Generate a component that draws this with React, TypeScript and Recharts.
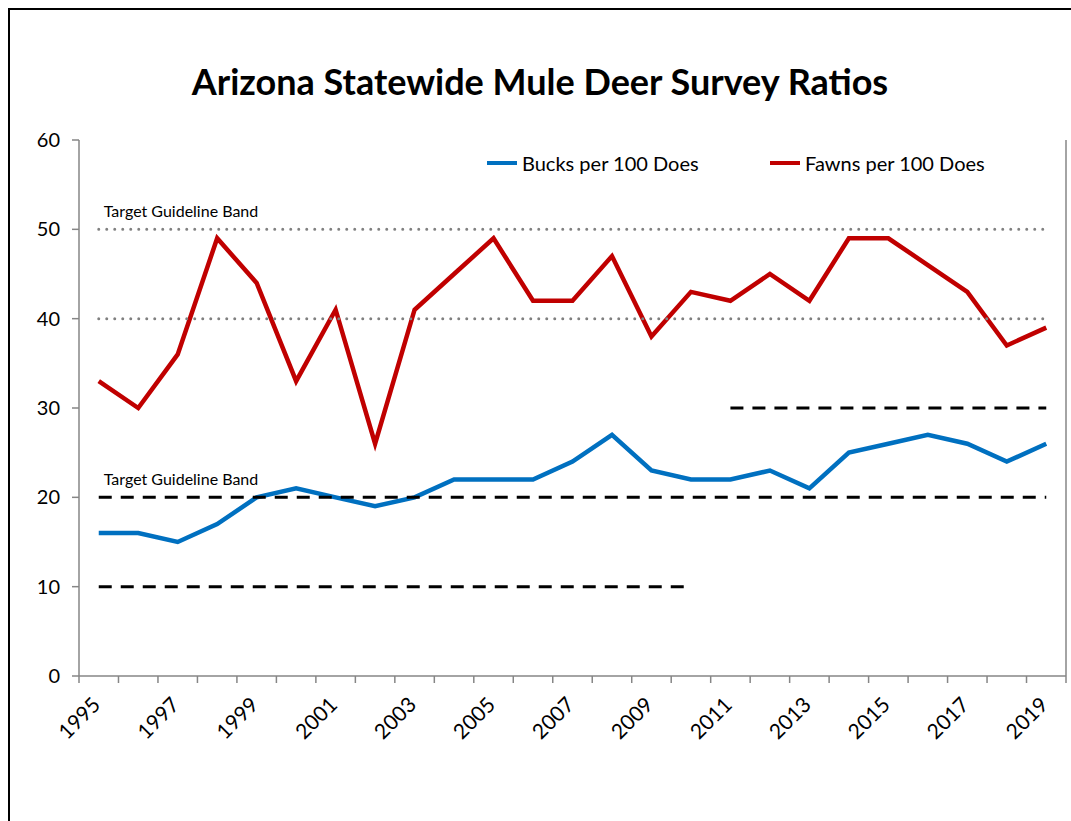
import { LineChart, Line, XAxis, YAxis, Legend, LabelList } from "recharts";

const years = [
    1995, 1996, 1997, 1998, 1999, 2000, 2001, 2002, 2003, 2004, 2005, 2006, 2007,
    2008, 2009, 2010, 2011, 2012, 2013, 2014, 2015, 2016, 2017, 2018, 2019,
];
const bucks = [16, 16, 15, 17, 20, 21, 20, 19, 20, 22, 22, 22, 24, 27, 23, 22, 22, 23, 21, 25, 26, 27, 26, 24, 26];
const fawns = [33, 30, 36, 49, 44, 33, 41, 26, 41, 45, 49, 42, 42, 47, 38, 43, 42, 45, 42, 49, 49, 46, 43, 37, 39];

// guideline bands (fawns: 40-50 all years, bucks: 10-20 until 2010, 20-30 from 2011)
const fawnHigh = [50, 50, 50, 50, 50, 50, 50, 50, 50, 50, 50, 50, 50, 50, 50, 50, 50, 50, 50, 50, 50, 50, 50, 50, 50];
const fawnLow = [40, 40, 40, 40, 40, 40, 40, 40, 40, 40, 40, 40, 40, 40, 40, 40, 40, 40, 40, 40, 40, 40, 40, 40, 40];
const buckLowOld = [10, 10, 10, 10, 10, 10, 10, 10, 10, 10, 10, 10, 10, 10, 10, 10, null, null, null, null, null, null, null, null, null];
const buckMid = [20, 20, 20, 20, 20, 20, 20, 20, 20, 20, 20, 20, 20, 20, 20, 20, 20, 20, 20, 20, 20, 20, 20, 20, 20];
const buckHighNew = [null, null, null, null, null, null, null, null, null, null, null, null, null, null, null, null, 30, 30, 30, 30, 30, 30, 30, 30, 30];

const yTicks = [0, 10, 20, 30, 40, 50, 60];
const labelYears = [1995, 1997, 1999, 2001, 2003, 2005, 2007, 2009, 2011, 2013, 2015, 2017, 2019];

const data = years.map((year, i) => ({
    year,
    bucks: bucks[i],
    fawns: fawns[i],
    fawnHigh: fawnHigh[i],
    fawnLow: fawnLow[i],
    buckLowOld: buckLowOld[i],
    buckMid: buckMid[i],
    buckHighNew: buckHighNew[i],
}));

const xDomain = [years[0] - 0.5, years[years.length - 1] + 0.5];
const boundaries = [...years.map((y) => y - 0.5), years[years.length - 1] + 0.5];

const FONT = "Lato, 'Open Sans', sans-serif";
const AXIS_GREY = "#868686";

const YearTick = (props: any) => {
    const { x, y, payload } = props;
    const ax = x + 3;
    const ay = y + 29;
    return (
        <text
            x={ax}
            y={ay}
            transform={`rotate(-45, ${ax}, ${ay})`}
            textAnchor="end"
            fontSize={21}
            fontFamily={FONT}
            fill="#000"
        >
            {payload.value}
        </text>
    );
};

const bandLabel = (props: any) => {
    const { x, y, index } = props;
    if (index !== 0) return null;
    return (
        <text x={x + 5} y={y - 12} fontSize={16} fontFamily={FONT} fill="#000">
            Target Guideline Band
        </text>
    );
};

const LegendBox = () => {
    const items = [
        { name: "Bucks per 100 Does", color: "#0070C0", width: 283 },
        { name: "Fawns per 100 Does", color: "#C00000", width: 260 },
    ];
    return (
        <div style={{ display: "flex", fontFamily: FONT, fontSize: 20, lineHeight: "24px", color: "#000" }}>
            {items.map((it) => (
                <div key={it.name} style={{ width: it.width, display: "flex", alignItems: "center" }}>
                    <svg width={30} height={6} style={{ marginRight: 5 }}>
                        <line x1={0} y1={3} x2={30} y2={3} stroke={it.color} strokeWidth={4} />
                    </svg>
                    <span>{it.name}</span>
                </div>
            ))}
        </div>
    );
};

const App = () => {
    return (
        <div style={{ width: 1071, height: 821, overflow: "hidden", position: "relative", background: "#fff" }}>
            <style>
                {"html, body { margin: 0; padding: 0; overflow: hidden; } html, body, #root { outline: none !important; border: none !important; box-shadow: none !important; }"}
            </style>
            <div
                style={{
                    position: "absolute",
                    left: 8,
                    top: 8,
                    width: 1080,
                    height: 830,
                    borderLeft: "2px solid #000",
                    borderTop: "2px solid #000",
                }}
            />
            <div style={{ position: "absolute", left: 10, top: 10 }}>
                <LineChart
                    width={1061}
                    height={811}
                    data={data}
                    margin={{ top: 130, right: 4, bottom: 84, left: 9 }}
                >
                    <text
                        x={530}
                        y={85}
                        textAnchor="middle"
                        fontSize={36}
                        fontWeight="bold"
                        fontFamily={FONT}
                        fill="#000"
                    >
                        Arizona Statewide Mule Deer Survey Ratios
                    </text>
                    <XAxis
                        xAxisId="b_labels"
                        dataKey="year"
                        type="number"
                        domain={xDomain}
                        ticks={labelYears}
                        tick={<YearTick />}
                        height={60}
                        tickSize={0}
                        tickMargin={0}
                        axisLine={false}
                        tickLine={false}
                        interval={0}
                    />
                    <XAxis
                        xAxisId="a_main"
                        dataKey="year"
                        type="number"
                        domain={xDomain}
                        ticks={boundaries}
                        tickFormatter={() => ""}
                        tick={{ fontSize: 1 }}
                        height={1}
                        tickSize={7}
                        tickMargin={0}
                        axisLine={{ stroke: AXIS_GREY, strokeWidth: 1.5 }}
                        tickLine={{ stroke: AXIS_GREY, strokeWidth: 1.5 }}
                        interval={0}
                    />
                    <XAxis
                        xAxisId="top"
                        orientation="top"
                        type="number"
                        domain={xDomain}
                        height={0}
                        tick={false}
                        tickLine={false}
                        axisLine={{ stroke: AXIS_GREY, strokeWidth: 1.5 }}
                    />
                    <YAxis
                        yAxisId="main"
                        domain={[0, 60]}
                        ticks={yTicks}
                        width={60}
                        tickSize={7}
                        tickMargin={12}
                        axisLine={{ stroke: AXIS_GREY, strokeWidth: 1.5 }}
                        tickLine={{ stroke: AXIS_GREY, strokeWidth: 1.5 }}
                        tick={{ fontSize: 20, fontFamily: FONT, fill: "#000" }}
                        interval={0}
                    />
                    <YAxis
                        yAxisId="right"
                        orientation="right"
                        domain={[0, 60]}
                        width={1}
                        tick={false}
                        tickLine={false}
                        axisLine={{ stroke: AXIS_GREY, strokeWidth: 1.5 }}
                    />
                    <Legend
                        content={<LegendBox />}
                        wrapperStyle={{ position: "absolute", top: 141, left: 477, width: 560, height: 0, overflow: "visible" }}
                    />
                    <Line
                        xAxisId="a_main"
                        yAxisId="main"
                        dataKey="bucks"
                        name="Bucks per 100 Does"
                        stroke="#0070C0"
                        strokeWidth={4.5}
                        dot={false}
                        isAnimationActive={false}
                    />
                    <Line
                        xAxisId="a_main"
                        yAxisId="main"
                        dataKey="fawns"
                        name="Fawns per 100 Does"
                        stroke="#C00000"
                        strokeWidth={4.5}
                        dot={false}
                        isAnimationActive={false}
                    />
                    <Line
                        xAxisId="a_main"
                        yAxisId="main"
                        dataKey="fawnHigh"
                        stroke="#808080"
                        strokeWidth={3}
                        strokeDasharray="0 8"
                        strokeLinecap="round"
                        dot={false}
                        legendType="none"
                        isAnimationActive={false}
                    >
                        <LabelList content={bandLabel} />
                    </Line>
                    <Line
                        xAxisId="a_main"
                        yAxisId="main"
                        dataKey="fawnLow"
                        stroke="#808080"
                        strokeWidth={3}
                        strokeDasharray="0 8"
                        strokeLinecap="round"
                        dot={false}
                        legendType="none"
                        isAnimationActive={false}
                    />
                    <Line
                        xAxisId="a_main"
                        yAxisId="main"
                        dataKey="buckLowOld"
                        stroke="#000"
                        strokeWidth={3}
                        strokeDasharray="13 9"
                        dot={false}
                        legendType="none"
                        isAnimationActive={false}
                    />
                    <Line
                        xAxisId="a_main"
                        yAxisId="main"
                        dataKey="buckMid"
                        stroke="#000"
                        strokeWidth={3}
                        strokeDasharray="13 9"
                        dot={false}
                        legendType="none"
                        isAnimationActive={false}
                    >
                        <LabelList content={bandLabel} />
                    </Line>
                    <Line
                        xAxisId="a_main"
                        yAxisId="main"
                        dataKey="buckHighNew"
                        stroke="#000"
                        strokeWidth={3}
                        strokeDasharray="13 9"
                        dot={false}
                        legendType="none"
                        isAnimationActive={false}
                    />
                </LineChart>
            </div>
        </div>
    );
};

export default App;
